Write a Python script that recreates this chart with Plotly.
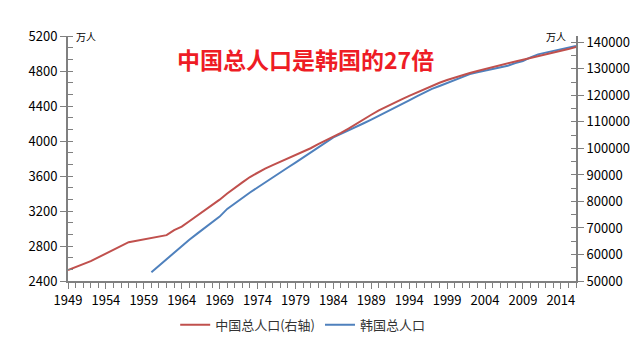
import plotly.graph_objects as go

china_years = [1949, 1952, 1957] + list(range(1962, 2017))
china_pop = [54167, 57482, 64653,
             67295, 69172, 70499, 72538, 74542, 76368, 78534, 80671, 82992, 85229,
             87177, 89211, 90859, 92420, 93717, 94974, 96259, 97542, 98705, 100072,
             101654, 103008, 104357, 105851, 107507, 109300, 111026, 112704, 114333,
             115823, 117171, 118517, 119850, 121121, 122389, 123626, 124761, 125786,
             126743, 127627, 128453, 129227, 129988, 130756, 131448, 132129, 132802,
             133450, 134091, 134735, 135404, 136072, 136782, 137462, 138271]

korea_years = list(range(1960, 2017))
korea_pop = [2501, 2577, 2651, 2726, 2800, 2871, 2939, 3005, 3070, 3136,
             3224, 3288, 3351, 3411, 3469, 3528, 3585, 3641, 3697, 3753,
             3812, 3872, 3933, 3991, 4041, 4081, 4119, 4162, 4203, 4245,
             4287, 4330, 4374, 4419, 4464, 4509, 4553, 4595, 4629, 4662,
             4701, 4737, 4764, 4785, 4804, 4818, 4837, 4860, 4890, 4915,
             4955, 4990, 5010, 5030, 5050, 5068, 5086]

title_text = "中国总人口是韩国的27倍"
china_name = "中国总人口(右轴)"
korea_name = "韩国总人口"
unit = "万人"

FONT = "Noto Sans CJK SC"
AX = "#808080"

fig = go.Figure()
fig.add_trace(go.Scatter(x=china_years, y=china_pop, name=china_name, yaxis="y2",
                         mode="lines", line=dict(color="#c0504d", width=2)))
fig.add_trace(go.Scatter(x=korea_years, y=korea_pop, name=korea_name, yaxis="y",
                         mode="lines", line=dict(color="#4f81bd", width=2)))

fig.update_layout(
    width=632, height=351,
    margin=dict(l=60, r=64, t=28, b=78, autoexpand=False),
    paper_bgcolor="white", plot_bgcolor="white",
    font=dict(family=FONT, size=12, color="#000000"),
    showlegend=True,
    legend=dict(orientation="h", x=0.462, xanchor="center", y=-0.118, yanchor="top",
                font=dict(size=13, color="#333333"), traceorder="normal",
                itemwidth=30, tracegroupgap=0),
    xaxis=dict(range=[1949, 2016], tick0=1949, dtick=5, showgrid=False, zeroline=False,
               automargin=False,
               showline=True, linecolor=AX, linewidth=2,
               ticks="outside", ticklen=6, tickcolor=AX, tickwidth=1,
               minor=dict(dtick=1, tick0=1949, ticks="outside", ticklen=5, tickcolor=AX, showgrid=False),
               tickfont=dict(size=13, color="#000000")),
    yaxis=dict(range=[2400, 5200], tick0=2400, dtick=400, showgrid=False, zeroline=False,
               automargin=False,
               showline=True, linecolor=AX, linewidth=2,
               ticks="outside", ticklen=6, tickcolor=AX, tickwidth=1,
               minor=dict(dtick=400/3, tick0=2400, ticks="inside", ticklen=5, tickcolor=AX, showgrid=False),
               tickfont=dict(size=13, color="#000000")),
    yaxis2=dict(range=[50000, 142400], tick0=50000, dtick=10000, overlaying="y", side="right",
                showgrid=False, zeroline=False, automargin=False, tickformat="d",
                showline=True, linecolor=AX, linewidth=2,
                ticks="outside", ticklen=6, tickcolor=AX, tickwidth=1,
                minor=dict(dtick=5000, tick0=50000, ticks="inside", ticklen=5, tickcolor=AX, showgrid=False),
                tickfont=dict(size=13, color="#000000")),
    annotations=[
        dict(text="<b>" + title_text + "</b>", xref="paper", yref="paper", x=0.467, y=0.906,
             xanchor="center", yanchor="middle", showarrow=False,
             font=dict(size=23, color="#ee1c25", family=FONT)),
        dict(text=unit, xref="paper", yref="paper", x=0.012, y=1.0,
             xanchor="left", yanchor="middle", showarrow=False,
             font=dict(size=10, color="#000000", family=FONT)),
        dict(text=unit, xref="paper", yref="paper", x=0.985, y=1.0,
             xanchor="right", yanchor="middle", showarrow=False,
             font=dict(size=10, color="#000000", family=FONT)),
    ],
)

fig.write_html("out.html")
